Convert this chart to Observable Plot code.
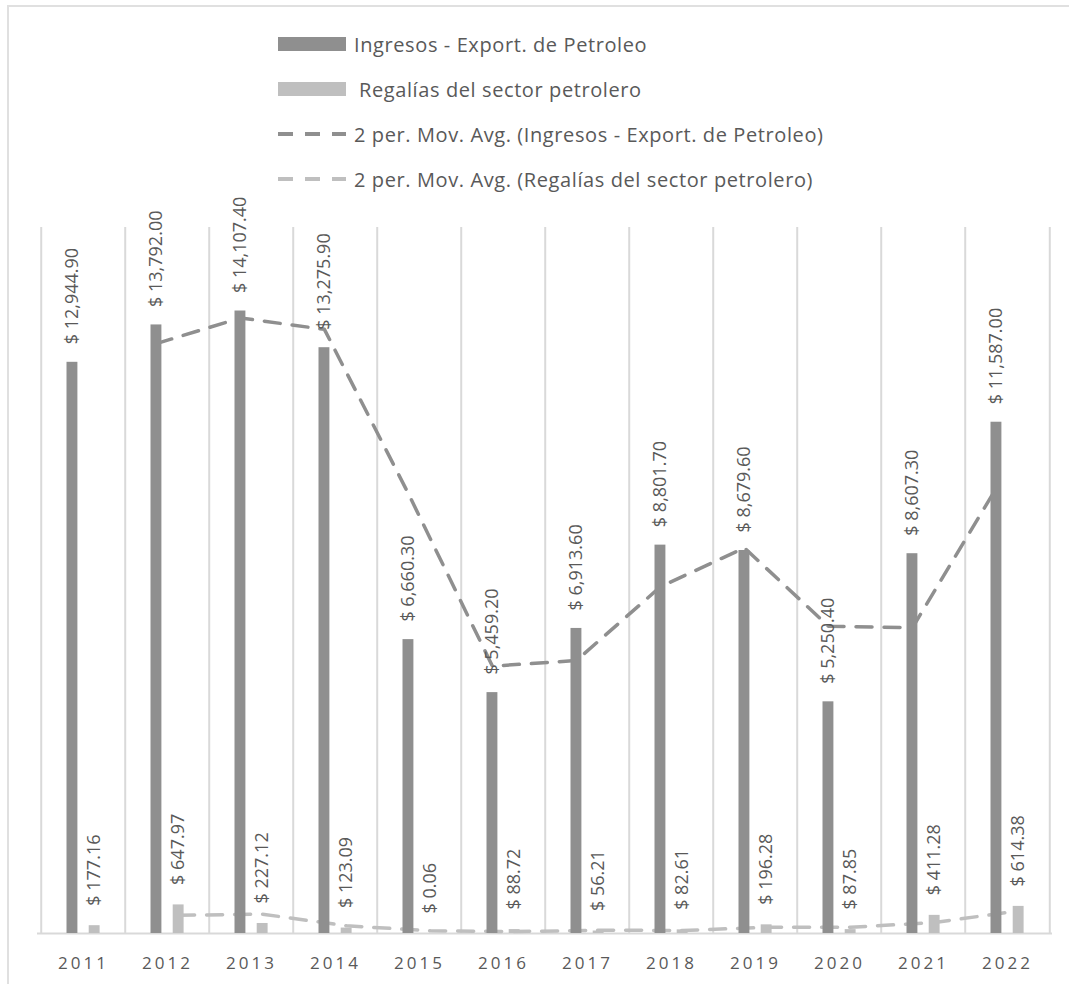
<!DOCTYPE html>
<html>
<head>
<meta charset="utf-8">
<script src="https://cdn.jsdelivr.net/npm/d3@7"></script>
<script src="https://cdn.jsdelivr.net/npm/@observablehq/plot@0.6"></script>
<style>
  html, body { margin: 0; padding: 0; background: #fff; overflow: hidden; width: 1069px; height: 984px; }
  #frame { position: absolute; left: 7px; top: 5px; width: 1300px; height: 1200px; border: 2px solid #e0e0e0; box-sizing: border-box; pointer-events: none; z-index: 10; }
  #wrap { position: relative; width: 1069px; }
  #legend { position: relative; height: 205px; font-family: "Open Sans", sans-serif; font-size: 20px; letter-spacing: 0.6px; color: #595959; }
  .item { position: absolute; left: 278px; height: 30px; display: flex; align-items: center; white-space: nowrap; }
  .item svg { display: block; flex: none; }
  .item span { margin-left: 8px; }
  #chart svg g[aria-label="x-axis"] text,
  #chart svg g[aria-label="x-axis tick label"] text { letter-spacing: 3px; }
</style>
</head>
<body>
<div id="frame"></div>
<div id="wrap">
  <div id="legend"></div>
  <div id="chart"></div>
</div>
<script>
// ---- data ----
const years = ["2011","2012","2013","2014","2015","2016","2017","2018","2019","2020","2021","2022"];
const ingresos = [12944.90, 13792.00, 14107.40, 13275.90, 6660.30, 5459.20, 6913.60, 8801.70, 8679.60, 5250.40, 8607.30, 11587.00];
const regalias = [177.16, 647.97, 227.12, 123.09, 0.06, 88.72, 56.21, 82.61, 196.28, 87.85, 411.28, 614.38];
const seriesNames = [
  "Ingresos - Export. de Petroleo",
  "Regalías del sector petrolero",
  "2 per. Mov. Avg. (Ingresos - Export. de Petroleo)",
  "2 per. Mov. Avg. (Regalías del sector petrolero)"
];

const darkColor = "#8f8f8f";
const lightColor = "#bfbfbf";
const textColor = "#595959";

const data = years.map((y, i) => ({year: y, ingresos: ingresos[i], regalias: regalias[i]}));
const fmt = d3.format(",.2f");
const money = v => "$ " + fmt(v);

// ---- legend (HTML above the SVG) ----
const legend = document.getElementById("legend");
const rowTops = [29, 74, 119, 164];
const kinds = [["rect", darkColor], ["rect", lightColor], ["dash", darkColor], ["dash", lightColor]];
seriesNames.forEach((name, i) => {
  const item = document.createElement("div");
  item.className = "item";
  item.style.top = rowTops[i] + "px";
  const [kind, color] = kinds[i];
  const sw = kind === "rect"
    ? `<svg width="68" height="30"><rect x="0" y="8" width="68" height="14" fill="${color}"/></svg>`
    : `<svg width="68" height="30"><line x1="0" x2="68" y1="15" y2="15" stroke="${color}" stroke-width="4" stroke-dasharray="15,12"/></svg>`;
  item.innerHTML = sw + `<span${i === 1 ? ' style="margin-left:13px"' : ''}>${name}</span>`;
  legend.appendChild(item);
});

// ---- chart ----
const W = 1069, H = 779;
const mL = 37, mR = 17;
const bw = (W - mL - mR) / years.length;
const off = 11.1;

const chart = Plot.plot({
  width: W,
  height: H,
  marginLeft: mL,
  marginRight: mR,
  marginTop: 22,
  marginBottom: 51,
  x: {domain: years, padding: 0, tickSize: 0, tickPadding: 23, label: null},
  y: {domain: [0, 16000], axis: null},
  style: {fontFamily: "Open Sans, sans-serif", fontSize: "17px", color: textColor, background: "white", overflow: "visible"},
  marks: [
    Plot.ruleX(years, {x: d => d, dx: -bw / 2, y1: 0, y2: 16000, stroke: "#d9d9d9", strokeWidth: 2}),
    Plot.ruleX([years[years.length - 1]], {x: d => d, dx: bw / 2, y1: 0, y2: 16000, stroke: "#d9d9d9", strokeWidth: 2}),
    Plot.ruleY([0], {stroke: "#d9d9d9", strokeWidth: 2}),
    Plot.lineY(data, Plot.windowY({k: 2, anchor: "end", reduce: "mean", strict: true},
      {x: "year", y: "ingresos", dx: -off, stroke: darkColor, strokeWidth: 3.5, strokeDasharray: "16,12"})),
    Plot.lineY(data, Plot.windowY({k: 2, anchor: "end", reduce: "mean", strict: true},
      {x: "year", y: "regalias", dx: off, stroke: lightColor, strokeWidth: 3.5, strokeDasharray: "16,12"})),
    Plot.barY(data, {x: "year", y: "ingresos", fill: darkColor, insetLeft: 25.5, insetRight: 47.6}),
    Plot.barY(data, {x: "year", y: "regalias", fill: lightColor, insetLeft: 47.7, insetRight: 25.4}),
    Plot.text(data, {x: "year", y: "ingresos", text: d => money(d.ingresos), rotate: -90, textAnchor: "start",
      dx: -off, dy: -18, fontSize: 18, fill: textColor}),
    Plot.text(data, {x: "year", y: "regalias", text: d => money(d.regalias), rotate: -90, textAnchor: "start",
      dx: off, dy: -20, fontSize: 18, fill: textColor})
  ]
});
document.getElementById("chart").appendChild(chart);
</script>
</body>
</html>
